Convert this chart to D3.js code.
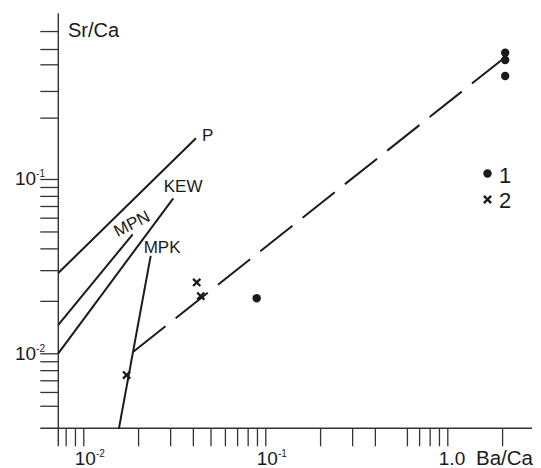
<!DOCTYPE html>
<html>
<head>
<meta charset="utf-8">
<script src="https://cdn.jsdelivr.net/npm/d3@7"></script>
<style>
  html, body { margin: 0; padding: 0; background: #fff; }
  svg { display: block; }
  text { font-family: "Liberation Sans", Arial, sans-serif; fill: #1a1a1a; }
</style>
</head>
<body>
<svg id="chart" width="541" height="468"></svg>
<script>
// ---- data ----
const xDomain = [0.00729, 2.92];          // Ba/Ca axis extent
const yDomain = [0.003712, 0.8927];       // Sr/Ca axis extent
const xTicks = [0.008, 0.009, 0.01, 0.02, 0.03, 0.04, 0.05, 0.06, 0.07, 0.08, 0.09,
                0.1, 0.2, 0.3, 0.4, 0.6, 0.7, 0.8, 0.9, 1.0, 2.0];
const yTicks = [0.005, 0.006, 0.007, 0.008, 0.009, 0.01, 0.02, 0.03, 0.04, 0.05,
                0.06, 0.07, 0.08, 0.09, 0.1, 0.225, 0.32, 0.455, 0.557, 0.706];
const xTickLabels = [{v: 0.01, base: "10", sup: "-2"}, {v: 0.1, base: "10", sup: "-1"}, {v: 1.0, base: "1.0", sup: ""}];
const yTickLabels = [{v: 0.01, base: "10", sup: "-2"}, {v: 0.1, base: "10", sup: "-1"}];

const lineNames = ["P", "MPN", "KEW", "MPK"];
const lineP   = [[0.00729, 0.0289],  [0.0416, 0.1712]];
const lineMPN = [[0.00729, 0.01454], [0.01868, 0.04816]];
const lineKEW = [[0.00729, 0.0100],  [0.03122, 0.0775]];
const lineMPK = [[0.0157, 0.00371],  [0.02346, 0.0362]];
const trendLine = [[0.01883, 0.0102], [1.99, 0.482]];

const series1 = [[2.08, 0.53], [2.08, 0.482], [2.08, 0.39], [0.0897, 0.0207]];   // dots
const series2 = [[0.042, 0.0255], [0.0442, 0.0213], [0.0173, 0.0075]];          // crosses
const legendLabels = ["1", "2"];

// ---- scales ----
const x = d3.scaleLog().domain(xDomain).range([58.3, 532]);
const y = d3.scaleLog().domain(yDomain).range([428.3, 13.3]);

const svg = d3.select("#chart");
const ink = "#1a1a1a";
const tickLen = 18;

// axes (ticks via d3 axes)
const gx = svg.append("g").attr("transform", `translate(0,${y.range()[0]})`)
  .call(d3.axisBottom(x).tickValues(xTicks).tickSize(tickLen).tickSizeOuter(0).tickFormat(""));
const gy = svg.append("g").attr("transform", `translate(${x.range()[0]},0)`)
  .call(d3.axisLeft(y).tickValues(yTicks).tickSize(tickLen).tickSizeOuter(0).tickFormat(""));
[gx, gy].forEach(g => {
  g.select(".domain").remove();
  g.selectAll(".tick line").attr("stroke", "#333").attr("stroke-width", 1.3);
});
// axis lines extending past the origin
svg.append("line")
  .attr("x1", x.range()[0] - tickLen).attr("x2", x.range()[1])
  .attr("y1", y.range()[0]).attr("y2", y.range()[0])
  .attr("stroke", "#333").attr("stroke-width", 1.4);
svg.append("line")
  .attr("x1", x.range()[0]).attr("x2", x.range()[0])
  .attr("y1", y.range()[1]).attr("y2", y.range()[0] + tickLen)
  .attr("stroke", "#333").attr("stroke-width", 1.4);

// tick labels
xTickLabels.forEach(t => {
  const tx = svg.append("text")
    .attr("x", x(t.v) - 8.5).attr("y", 465)
    .attr("font-size", 19);
  tx.append("tspan").text(t.base);
  if (t.sup) tx.append("tspan").attr("font-size", 10).attr("dy", -8).text(t.sup);
});
yTickLabels.forEach(t => {
  const ty = svg.append("text")
    .attr("x", 45).attr("y", y(t.v) + 6.5)
    .attr("text-anchor", "end")
    .attr("font-size", 19);
  ty.append("tspan").text(t.base);
  ty.append("tspan").attr("font-size", 10).attr("dy", -8).text(t.sup);
});

// axis titles
svg.append("text").attr("x", 476).attr("y", 465).attr("font-size", 20.5).text("Ba/Ca");
svg.append("text").attr("x", 68).attr("y", 36.5).attr("font-size", 20).text("Sr/Ca");

// model lines
const lineGen = d3.line().x(d => x(d[0])).y(d => y(d[1]));
const lines = [lineP, lineMPN, lineKEW, lineMPK];
lines.forEach(l => {
  svg.append("path").attr("d", lineGen(l))
    .attr("fill", "none").attr("stroke", ink).attr("stroke-width", 2);
});

// line labels (placed relative to the line's upper end)
const end = l => [x(l[1][0]), y(l[1][1])];
let e = end(lineP);
svg.append("text").attr("x", e[0] + 6).attr("y", e[1] + 3).attr("font-size", 17).text(lineNames[0]);
e = end(lineMPN);
svg.append("text")
  .attr("transform", `translate(${e[0] - 1},${e[1] - 11}) rotate(-27)`)
  .attr("text-anchor", "middle").attr("y", 6).attr("font-size", 17).text(lineNames[1]);
e = end(lineKEW);
svg.append("text").attr("x", e[0] - 9.5).attr("y", e[1] - 6.5).attr("font-size", 17).text(lineNames[2]);
e = end(lineMPK);
svg.append("text").attr("x", e[0] - 7).attr("y", e[1] - 2.7).attr("font-size", 17).text(lineNames[3]);

// dashed trend
svg.append("path").attr("d", lineGen(trendLine))
  .attr("fill", "none").attr("stroke", ink).attr("stroke-width", 2)
  .attr("stroke-dasharray", "41,13");

// markers
const crossPath = (cx, cy, s) => `M${cx - s},${cy - s}L${cx + s},${cy + s}M${cx - s},${cy + s}L${cx + s},${cy - s}`;
svg.selectAll("circle.s1").data(series1).enter().append("circle")
  .attr("class", "s1")
  .attr("cx", d => x(d[0])).attr("cy", d => y(d[1])).attr("r", 4.2).attr("fill", ink);
svg.selectAll("path.s2").data(series2).enter().append("path")
  .attr("class", "s2")
  .attr("d", d => crossPath(x(d[0]), y(d[1]), 3.6))
  .attr("stroke", ink).attr("stroke-width", 2.3).attr("fill", "none");

// legend
svg.append("circle").attr("cx", 487.5).attr("cy", 173.5).attr("r", 4.2).attr("fill", ink);
svg.append("text").attr("x", 499).attr("y", 182.5).attr("font-size", 22).text(legendLabels[0]);
svg.append("path").attr("d", crossPath(487.5, 199.5, 3.6))
  .attr("stroke", ink).attr("stroke-width", 2.3).attr("fill", "none");
svg.append("text").attr("x", 499).attr("y", 207.5).attr("font-size", 22).text(legendLabels[1]);
</script>
</body>
</html>
